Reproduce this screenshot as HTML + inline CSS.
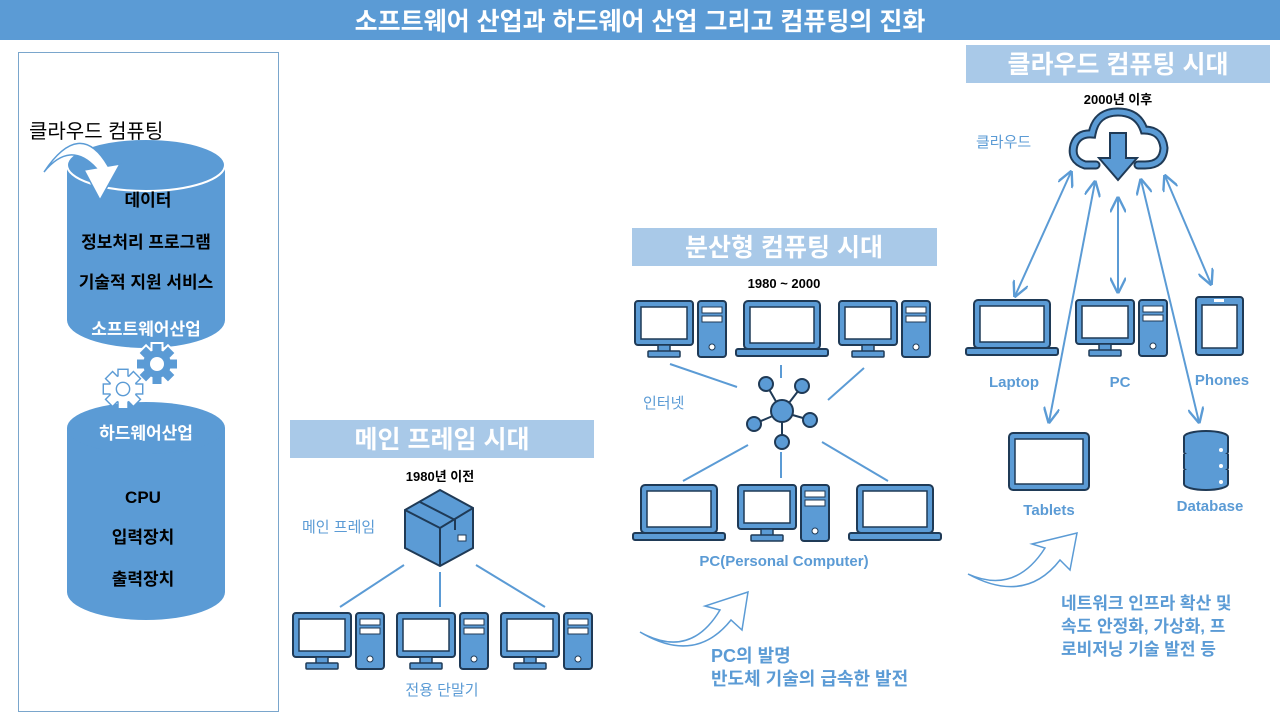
<!DOCTYPE html>
<html><head><meta charset="utf-8"><style>
body{margin:0;width:1280px;height:720px;background:#fff;overflow:hidden;font-family:"Liberation Sans","Noto Sans CJK KR",sans-serif;}
svg{position:absolute;left:0;top:0}
</style></head><body>
<svg width="1280" height="720" viewBox="0 0 1280 720" xmlns="http://www.w3.org/2000/svg" font-family="Liberation Sans, Noto Sans CJK KR, sans-serif">
<defs>
<g id="desk">
<rect x="1" y="1" width="58" height="44" rx="3" fill="#5b9bd5" stroke="#1f3a56" stroke-width="2"/>
<rect x="7" y="7" width="46" height="32" fill="#fff" stroke="#1f3a56" stroke-width="1.5"/>
<rect x="24" y="45" width="12" height="7" fill="#5b9bd5" stroke="#1f3a56" stroke-width="1.5"/>
<rect x="14" y="51" width="32" height="6" rx="1" fill="#5b9bd5" stroke="#1f3a56" stroke-width="1.5"/>
<rect x="64" y="1" width="28" height="56" rx="3" fill="#5b9bd5" stroke="#1f3a56" stroke-width="2"/>
<rect x="68" y="7" width="20" height="6" fill="#fff" stroke="#1f3a56" stroke-width="1"/>
<rect x="68" y="16" width="20" height="6" fill="#fff" stroke="#1f3a56" stroke-width="1"/>
<circle cx="78" cy="47" r="3" fill="#fff" stroke="#1f3a56"/>
</g>
<g id="lap">
<rect x="9" y="1" width="76" height="48" rx="4" fill="#5b9bd5" stroke="#1f3a56" stroke-width="2"/>
<rect x="15" y="7" width="64" height="36" fill="#fff" stroke="#1f3a56" stroke-width="1.5"/>
<rect x="1" y="49" width="92" height="7" rx="2" fill="#5b9bd5" stroke="#1f3a56" stroke-width="2"/>
</g>
<g id="gear">
<circle r="14"/>
<rect x="-4.5" y="-20" width="9" height="40"/>
<rect x="-4.5" y="-20" width="9" height="40" transform="rotate(45)"/>
<rect x="-4.5" y="-20" width="9" height="40" transform="rotate(90)"/>
<rect x="-4.5" y="-20" width="9" height="40" transform="rotate(135)"/>
</g>
<marker id="ah" viewBox="0 0 10 10" refX="9" refY="5" markerWidth="8" markerHeight="8" orient="auto-start-reverse"><path d="M0,0 L10,5 L0,10" fill="none" stroke="#5b9bd5" stroke-width="1.5"/></marker>
</defs>

<!-- title -->
<rect x="0" y="0" width="1280" height="40" fill="#5b9bd5"/>
<text x="640" y="30" text-anchor="middle" fill="#fff" font-size="25" font-weight="bold">소프트웨어 산업과 하드웨어 산업 그리고 컴퓨팅의 진화</text>

<!-- left panel -->
<rect x="18.5" y="52.5" width="260" height="659" fill="none" stroke="#7aa6cc" stroke-width="1"/>
<path d="M67,165 L67,320 A79,28 0 0 0 225,320 L225,165 Z" fill="#5b9bd5"/>
<ellipse cx="146" cy="165" rx="79" ry="26" fill="#5b9bd5" stroke="#fff" stroke-width="2"/>
<path d="M67,428 L67,592 A79,28 0 0 0 225,592 L225,428 Z" fill="#5b9bd5"/>
<ellipse cx="146" cy="428" rx="79" ry="26" fill="#5b9bd5"/>
<text x="29" y="138" font-size="20" fill="#000">클라우드 컴퓨팅</text>
<path d="M44,172 Q70,140 96,168 L84,170 L100,200 L120,164 L108,166 Q80,118 44,172 Z" fill="#fff" stroke="#5b9bd5" stroke-width="1.5"/>
<g font-size="17" font-weight="bold" text-anchor="middle">
<text x="148" y="206">데이터</text>
<text x="146" y="248">정보처리 프로그램</text>
<text x="146" y="288">기술적 지원 서비스</text>
<text x="146" y="335" fill="#fff">소프트웨어산업</text>
<text x="146" y="439" fill="#fff">하드웨어산업</text>
<text x="143" y="503">CPU</text>
<text x="143" y="543">입력장치</text>
<text x="143" y="585">출력장치</text>
</g>
<!-- gears -->
<g transform="translate(157,364)">
<use href="#gear" fill="#fff" stroke="#fff" stroke-width="4"/>
<use href="#gear" fill="#5b9bd5"/>
<circle r="7" fill="#fff"/>
</g>
<g transform="translate(123,389) scale(0.95)">
<use href="#gear" fill="#5b9bd5" stroke="#5b9bd5" stroke-width="3"/>
<use href="#gear" fill="#fff"/>
<circle r="7" fill="#fff" stroke="#5b9bd5" stroke-width="1.5"/>
</g>

<!-- section labels -->
<rect x="290" y="420" width="304" height="38" fill="#a9c9e8"/>
<text x="442" y="448" text-anchor="middle" fill="#fff" font-size="25" font-weight="bold">메인 프레임 시대</text>
<rect x="632" y="228" width="305" height="38" fill="#a9c9e8"/>
<text x="784" y="256" text-anchor="middle" fill="#fff" font-size="25" font-weight="bold">분산형 컴퓨팅 시대</text>
<rect x="966" y="45" width="304" height="38" fill="#a9c9e8"/>
<text x="1118" y="73" text-anchor="middle" fill="#fff" font-size="25" font-weight="bold">클라우드 컴퓨팅 시대</text>

<!-- mainframe -->
<text x="440" y="481" text-anchor="middle" font-size="13" font-weight="bold">1980년 이전</text>
<text x="302" y="532" font-size="15" fill="#5b9bd5">메인 프레임</text>
<g stroke="#1f3a56" stroke-width="2" fill="#5b9bd5">
<path d="M405,510 L440,490 L473,508 L473,548 L440,566 L405,548 Z"/>
<path d="M405,510 L440,528 L473,508" fill="none"/>
<path d="M440,528 L440,566" fill="none"/>
<path d="M420,502 L455,520 L455,530" fill="none"/>
<rect x="458" y="535" width="8" height="6" fill="#fff" stroke-width="1"/>
</g>
<g stroke="#5b9bd5" stroke-width="2">
<line x1="404" y1="565" x2="340" y2="607"/><line x1="440" y1="572" x2="440" y2="607"/><line x1="476" y1="565" x2="545" y2="607"/>
</g>
<use href="#desk" x="292" y="612"/><use href="#desk" x="396" y="612"/><use href="#desk" x="500" y="612"/>
<text x="442" y="695" text-anchor="middle" font-size="15" fill="#5b9bd5">전용 단말기</text>

<!-- distributed -->
<text x="784" y="288" text-anchor="middle" font-size="13" font-weight="bold">1980 ~ 2000</text>
<use href="#desk" x="634" y="300"/><use href="#lap" x="735" y="300"/><use href="#desk" x="838" y="300"/>
<g stroke="#5b9bd5" stroke-width="2">
<line x1="670" y1="364" x2="737" y2="387"/><line x1="781" y1="365" x2="781" y2="378"/><line x1="864" y1="368" x2="828" y2="400"/>
<line x1="748" y1="445" x2="683" y2="481"/><line x1="781" y1="452" x2="781" y2="478"/><line x1="822" y1="442" x2="888" y2="481"/>
</g>
<text x="643" y="408" font-size="15" fill="#5b9bd5">인터넷</text>
<g stroke="#1f3a56" stroke-width="2" fill="#5b9bd5">
<line x1="782" y1="412" x2="766" y2="384"/><line x1="782" y1="412" x2="802" y2="386"/><line x1="782" y1="412" x2="810" y2="420"/><line x1="782" y1="412" x2="782" y2="442"/><line x1="782" y1="412" x2="754" y2="424"/>
<circle cx="766" cy="384" r="7"/><circle cx="802" cy="386" r="7"/><circle cx="810" cy="420" r="7"/><circle cx="782" cy="442" r="7"/><circle cx="754" cy="424" r="7"/>
<circle cx="782" cy="411" r="11"/>
</g>
<use href="#lap" x="632" y="484"/><use href="#desk" x="737" y="484"/><use href="#lap" x="848" y="484"/>
<text x="784" y="566" text-anchor="middle" font-size="15" font-weight="bold" fill="#5b9bd5">PC(Personal Computer)</text>
<path d="M640,632 Q690,660 720,610 L705,606 L748,592 L742,630 L731,620 Q695,665 640,632 Z" fill="#fff" stroke="#5b9bd5" stroke-width="1.5"/>
<text x="711" y="662" font-size="18" font-weight="bold" fill="#5b9bd5">PC의 발명</text>
<text x="711" y="685" font-size="18" font-weight="bold" fill="#5b9bd5">반도체 기술의 급속한 발전</text>

<!-- cloud -->
<text x="1118" y="104" text-anchor="middle" font-size="13" font-weight="bold">2000년 이후</text>
<text x="976" y="147" font-size="15" fill="#5b9bd5">클라우드</text>
<path d="M1096,165 L1085,165 Q1070,160 1074,145 Q1078,133 1092,134 Q1096,112 1118,112 Q1138,112 1144,130 Q1162,130 1164,148 Q1163,165 1145,165 L1138,165" fill="none" stroke="#1f3a56" stroke-width="9" stroke-linecap="round"/>
<path d="M1096,165 L1085,165 Q1070,160 1074,145 Q1078,133 1092,134 Q1096,112 1118,112 Q1138,112 1144,130 Q1162,130 1164,148 Q1163,165 1145,165 L1138,165" fill="none" stroke="#5b9bd5" stroke-width="5" stroke-linecap="round"/>
<path d="M1110,133 L1126,133 L1126,158 L1137,158 L1118,180 L1099,158 L1110,158 Z" fill="#5b9bd5" stroke="#1f3a56" stroke-width="2"/>
<g stroke="#5b9bd5" stroke-width="2" marker-start="url(#ah)" marker-end="url(#ah)" fill="none">
<line x1="1071" y1="172" x2="1015" y2="296"/>
<line x1="1095" y1="182" x2="1049" y2="422"/>
<line x1="1118" y1="198" x2="1118" y2="292"/>
<line x1="1141" y1="180" x2="1199" y2="422"/>
<line x1="1165" y1="176" x2="1211" y2="284"/>
</g>
<use href="#lap" x="965" y="299"/><use href="#desk" x="1075" y="299"/>
<rect x="1196" y="297" width="47" height="58" rx="3" fill="#5b9bd5" stroke="#1f3a56" stroke-width="2"/>
<rect x="1202" y="305" width="35" height="43" fill="#fff" stroke="#1f3a56" stroke-width="1.5"/>
<rect x="1214" y="299" width="10" height="3" fill="#fff"/>
<text x="1014" y="387" text-anchor="middle" font-size="15" font-weight="bold" fill="#5b9bd5">Laptop</text>
<text x="1120" y="387" text-anchor="middle" font-size="15" font-weight="bold" fill="#5b9bd5">PC</text>
<text x="1222" y="385" text-anchor="middle" font-size="15" font-weight="bold" fill="#5b9bd5">Phones</text>
<rect x="1009" y="433" width="80" height="57" rx="4" fill="#5b9bd5" stroke="#1f3a56" stroke-width="2"/>
<rect x="1015" y="439" width="68" height="45" fill="#fff" stroke="#1f3a56" stroke-width="1.5"/>
<g fill="#5b9bd5" stroke="#1f3a56" stroke-width="2">
<ellipse cx="1206" cy="437" rx="22" ry="6"/>
<path d="M1184,437 L1184,452 A22,6 0 0 0 1228,452 L1228,437"/>
<path d="M1184,454 L1184,468 A22,6 0 0 0 1228,468 L1228,454"/>
<path d="M1184,470 L1184,484 A22,6 0 0 0 1228,484 L1228,470"/>
</g>
<g fill="#fff"><circle cx="1221" cy="450" r="2"/><circle cx="1221" cy="466" r="2"/><circle cx="1221" cy="482" r="2"/></g>
<text x="1049" y="515" text-anchor="middle" font-size="15" font-weight="bold" fill="#5b9bd5">Tablets</text>
<text x="1210" y="511" text-anchor="middle" font-size="15" font-weight="bold" fill="#5b9bd5">Database</text>
<path d="M968,574 Q1015,595 1045,548 L1032,544 L1077,533 L1070,570 L1060,560 Q1025,605 968,574 Z" fill="#fff" stroke="#5b9bd5" stroke-width="1.5"/>
<text x="1061" y="609" font-size="17" font-weight="bold" fill="#5b9bd5">네트워크 인프라 확산 및</text>
<text x="1061" y="632" font-size="17" font-weight="bold" fill="#5b9bd5">속도 안정화, 가상화, 프</text>
<text x="1061" y="655" font-size="17" font-weight="bold" fill="#5b9bd5">로비저닝 기술 발전 등</text>
</svg>
</body></html>
